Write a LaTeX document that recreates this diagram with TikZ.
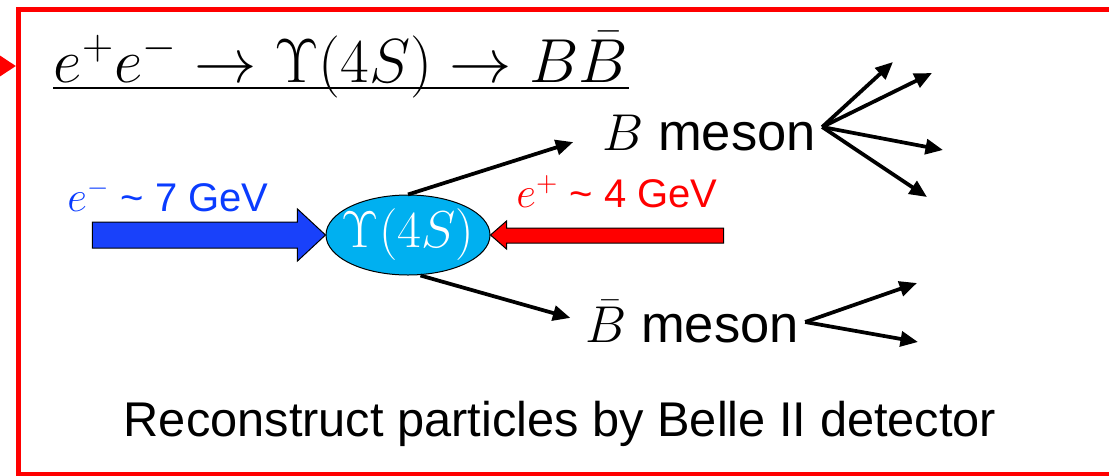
\documentclass[tikz,border=0pt]{standalone}
\usepackage{amsmath}
\usepackage{fontspec}
\setmainfont{Liberation Sans}
\usepackage{xcolor}
\usetikzlibrary{positioning,arrows.meta,shapes.geometric,calc}

\definecolor{beamblue}{RGB}{25,65,250}
\definecolor{txtblue}{RGB}{10,60,255}
\definecolor{upscyan}{RGB}{0,176,240}

\begin{document}
\begin{tikzpicture}[
  x=0.4pt, y=-0.4pt,
  frame/.style={draw=red, line width=2pt, inner sep=0pt},
  title/.style={font=\fontsize{23}{26}\selectfont, inner sep=0pt},
  ups/.style={ellipse, draw=black, thin, fill=upscyan, text=white,
              minimum width=65.6pt, minimum height=32pt,
              inner xsep=-9pt, inner ysep=-5pt,
              font=\fontsize{20}{22}\selectfont},
  meson/.style={font=\fontsize{21}{24}\selectfont, inner sep=0pt},
  beamlbl/.style={font=\fontsize{16}{18}\selectfont, inner sep=0pt},
  beam/.style={draw=black, thin},
  decay/.style={-{Triangle[length=7pt,width=6pt]}, line width=1.5pt},
  note/.style={font=\fontsize{19.5}{22}\selectfont, inner sep=0pt},
]
\useasboundingbox (0,0) rectangle (1109,475);

% frame
\node[frame, anchor=north west, minimum width=443.6pt, minimum height=186pt]
  (frame) at (16,7) {};
\coordinate (feed) at (-40,66);
\draw[red, line width=2pt, -{Triangle[length=6.5pt,width=8pt]}]
  (feed) -- (feed -| frame.west);

% reaction
\node[title, anchor=base] (title) at (341,82)
  {$e^+e^-\to\Upsilon(4S)\to B\bar{B}$};
\draw[line width=0.8pt] ([yshift=-2.2pt]title.base west)
  -- ([yshift=-2.2pt]title.base east);

% collision
\node[ups] (ups) at (408,235) {$\Upsilon(4S)$};
\draw[beam, fill=beamblue] (ups.west) -- ++(-28,-26) -- ++(0,13)
  -- ++(-205,0) -- ++(0,26) -- ++(205,0) -- ++(0,13) -- cycle;
\draw[beam, fill=red] (ups.east) -- ++(16,-14) -- ++(0,7)
  -- ++(217,0) -- ++(0,15) -- ++(-217,0) -- ++(0,6) -- cycle;
\node[beamlbl, text=txtblue] (lblminus) at (168,196)
  {$e^-$ \textasciitilde\ 7 GeV};
\node[beamlbl, text=red] (lblplus) at (617,192)
  {$e^+$ \textasciitilde\ 4 GeV};

% B mesons
\node[meson] (b) at (709,133) {$B$ meson};
\node[meson] (bbar) at (692,322) {$\bar{B}$ meson};
\draw[decay, shorten >=12pt] (ups.north) -- (b.west);
\draw[decay, shorten >=6pt] ([xshift=5pt]ups.south) -- (bbar.west);

% decay products
\coordinate (bfan) at ($(b.east)+(6,-6)$);
\foreach \tx/\ty [count=\i] in {893/62, 932/73, 943/150, 927/197}
  \coordinate (bp\i) at (\tx,\ty);
\foreach \i in {1,...,4}
  \draw[decay] (bfan) -- (bp\i);
\coordinate (bbfan) at ($(bbar.east)+(6,0)$);
\coordinate (bbp1) at (917,283);
\coordinate (bbp2) at (918,342);
\draw[decay] (bbfan) -- (bbp1);
\draw[decay] (bbfan) -- (bbp2);

\node[note] (reco) at (560,424) {Reconstruct particles by Belle II detector};

\end{tikzpicture}
\end{document}
